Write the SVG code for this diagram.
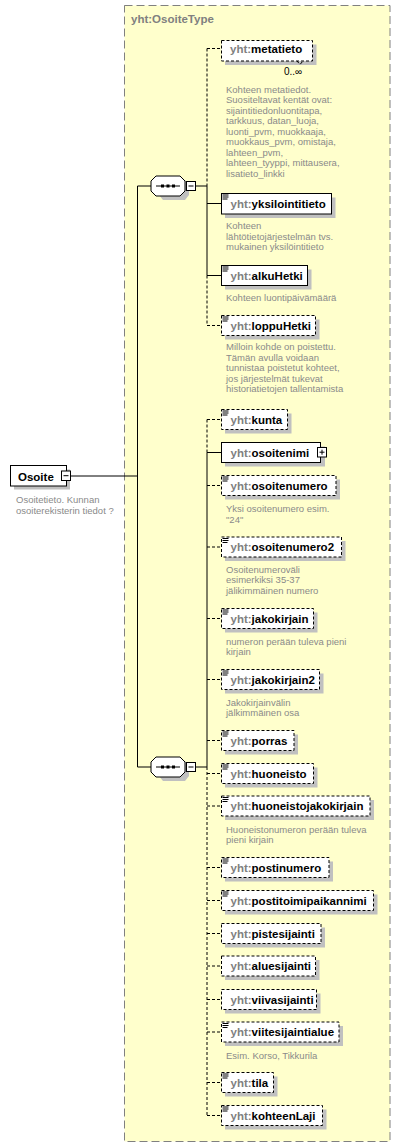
<svg xmlns="http://www.w3.org/2000/svg" xmlns:xlink="http://www.w3.org/1999/xlink" width="401" height="1147" viewBox="0 0 401 1147">
<style>
.bg{fill:#ffffff}
.ctype{fill:#ffffcc;stroke:#808080;stroke-width:1;stroke-dasharray:8,4}
.title{font-family:"Liberation Sans",Arial,sans-serif;font-weight:bold;font-size:11.5px;fill:#808080}
.box{fill:#ffffff;stroke:#000;stroke-width:1}
.opt{stroke-dasharray:3,2}
.sh{fill:#c0c0c0}
.lbl{font-family:"Liberation Sans",Arial,sans-serif;font-weight:bold;font-size:11.5px;fill:#000}
.pre{fill:#808080}
.desc{font-family:"Liberation Sans",Arial,sans-serif;font-size:9.5px;fill:#8a8a8a}
.ln{stroke:#000;stroke-width:1;fill:none}
.dln{stroke:#000;stroke-width:1;fill:none;stroke-dasharray:3,2}
.pm{fill:#fff;stroke:#000;stroke-width:1}
.occ{font-family:"Liberation Sans",Arial,sans-serif;font-size:10px;fill:#000}
</style>
<defs>
<g id="doc"><path d="M0,0.5h6M0,2.5h6M0,4.5h5" stroke="#000" stroke-width="1"/></g>
<g id="seq">
<polygon points="5,5 9,0 31,0 35,5 35,15 31,20 9,20 5,15" transform="translate(4,4)" class="sh"/>
<polygon points="1,5 6,0 30,0 35,5 35,15 30,20 6,20 1,15" class="box"/>
<path d="M6,10h24" stroke="#000" stroke-width="1"/>
<rect x="11" y="8.5" width="3" height="3" fill="#000"/>
<rect x="16.5" y="8.5" width="3" height="3" fill="#000"/>
<rect x="22" y="8.5" width="3" height="3" fill="#000"/>
<rect x="36.5" y="5.5" width="9" height="9" class="pm"/>
<path d="M38.5,10h5" stroke="#000" stroke-width="1"/>
</g>
</defs>
<rect x="0" y="0" width="401" height="1147" class="bg"/>
<g id="OsoiteType">
<rect x="124.5" y="5.5" width="265.5" height="1136" class="ctype"/>
<text x="131" y="23" class="title">yht:OsoiteType</text>
</g>
<g id="connectors">
<path class="ln" d="M70.5,476H137.5M137.5,186V767M137.5,186H151M137.5,767H151"/>
<path class="ln" d="M196,186H207"/>
<path class="dln" d="M207,48.5V186M207,275.5V325.5"/>
<path class="ln" d="M207,186V275.5"/>
<path class="dln" d="M207,48.5H221"/>
<path class="ln" d="M207,203.5H221M207,275.5H221"/>
<path class="dln" d="M207,325.5H221"/>
<path class="ln" d="M196,767H207"/>
<path class="dln" d="M207,419.5V452.5M207,767V1115.5"/>
<path class="ln" d="M207,452.5V767M207,452.5H221"/>
<path class="dln" d="M207,419.5H221M207,485.5H221M207,547H221M207,618.5H221M207,679.5H221M207,740.5H221M207,773.5H221M207,806H221M207,867.5H221M207,900.5H221M207,933.5H221M207,966H221M207,999.5H221M207,1032H221M207,1082.5H221M207,1115.5H221"/>
</g>
<g id="Osoite">
<rect x="14" y="469.5" width="56" height="20" class="sh"/>
<rect x="10.5" y="465.5" width="56" height="20.5" class="box"/>
<text x="18" y="480.5" class="lbl">Osoite</text>
<rect x="61.5" y="471" width="9" height="9.5" class="pm"/>
<path d="M63.5,475.7h5" stroke="#000"/>
<text class="desc"><tspan x="16" y="502.5">Osoitetieto. Kunnan</tspan><tspan x="16" y="514">osoiterekisterin tiedot ?</tspan></text>
</g>
<g id="sequence1"><use xlink:href="#seq" x="150" y="176"/></g>
<g id="sequence2"><use xlink:href="#seq" x="150" y="757"/></g>
<g id="metatieto">
<rect x="225" y="44.5" width="91.5" height="20.5" class="sh"/>
<rect x="221.5" y="40.5" width="91" height="20.5" class="box opt"/>
<path d="M297,61l3,3.5l3,-3.5" class="dln"/>
<text x="230" y="52.5" class="lbl"><tspan class="pre">yht:</tspan>metatieto</text>
<text x="284" y="75" class="occ">0..∞</text>
<text class="desc"><tspan x="226" y="92.8">Kohteen metatiedot.</tspan><tspan x="226" y="103.3">Suositeltavat kentät ovat:</tspan><tspan x="226" y="113.8">sijaintitiedonluontitapa,</tspan><tspan x="226" y="124.3">tarkkuus, datan_luoja,</tspan><tspan x="226" y="134.8">luonti_pvm, muokkaaja,</tspan><tspan x="226" y="145.3">muokkaus_pvm, omistaja,</tspan><tspan x="226" y="155.8">lahteen_pvm,</tspan><tspan x="226" y="166.3">lahteen_tyyppi, mittausera,</tspan><tspan x="226" y="176.8">lisatieto_linkki</tspan></text>
</g>
<g id="yksilointitieto">
<rect x="225" y="197.5" width="110.5" height="20.5" class="sh"/>
<rect x="221.5" y="193.5" width="110" height="20.5" class="box"/>
<use xlink:href="#doc" x="222.5" y="194.5"/>
<text x="230.5" y="207.5" class="lbl"><tspan class="pre">yht:</tspan>yksilointitieto</text>
<text class="desc"><tspan x="226" y="229">Kohteen</tspan><tspan x="226" y="239.7">lähtötietojärjestelmän  tvs.</tspan><tspan x="226" y="250.4">mukainen yksilöintitieto</tspan></text>
</g>
<g id="alkuHetki">
<rect x="225" y="269.5" width="86.5" height="20" class="sh"/>
<rect x="221.5" y="265.5" width="86" height="20" class="box"/>
<use xlink:href="#doc" x="222.5" y="266.5"/>
<text x="230.5" y="279.5" class="lbl"><tspan class="pre">yht:</tspan>alkuHetki</text>
<text class="desc"><tspan x="226" y="300.8">Kohteen luontipäivämäärä</tspan></text>
</g>
<g id="loppuHetki">
<rect x="225" y="319.5" width="94.5" height="20" class="sh"/>
<rect x="221.5" y="315.5" width="94" height="20" class="box opt"/>
<use xlink:href="#doc" x="222.5" y="316.5"/>
<text x="230.5" y="329.5" class="lbl"><tspan class="pre">yht:</tspan>loppuHetki</text>
<text class="desc"><tspan x="226" y="350.2">Milloin kohde on poistettu.</tspan><tspan x="226" y="360.7">Tämän avulla voidaan</tspan><tspan x="226" y="371.2">tunnistaa poistetut kohteet,</tspan><tspan x="226" y="381.7">jos järjestelmät tukevat</tspan><tspan x="226" y="392.2">historiatietojen tallentamista</tspan></text>
</g>
<g id="kunta">
<rect x="225" y="413.5" width="66.5" height="20" class="sh"/>
<rect x="221.5" y="409.5" width="66" height="20" class="box opt"/>
<use xlink:href="#doc" x="222.5" y="410.5"/>
<text x="230.5" y="423.5" class="lbl"><tspan class="pre">yht:</tspan>kunta</text>
</g>
<g id="osoitenimi">
<rect x="225" y="446.5" width="100" height="20" class="sh"/>
<rect x="221.5" y="442.5" width="99" height="20" class="box"/>
<text x="230.5" y="456.5" class="lbl"><tspan class="pre">yht:</tspan>osoitenimi</text>
<rect x="317.5" y="447.5" width="9" height="9.5" class="pm"/>
<path d="M319.5,452.2h5M322,449.7v5" stroke="#000"/>
</g>
<g id="osoitenumero">
<rect x="225" y="479.5" width="115" height="20" class="sh"/>
<rect x="221.5" y="475.5" width="114.5" height="20" class="box opt"/>
<use xlink:href="#doc" x="222.5" y="476.5"/>
<text x="230.5" y="489.5" class="lbl"><tspan class="pre">yht:</tspan>osoitenumero</text>
<text class="desc"><tspan x="226" y="512">Yksi osoitenumero esim.</tspan><tspan x="226" y="522.5">"24"</tspan></text>
</g>
<g id="osoitenumero2">
<rect x="225" y="541" width="120.5" height="20" class="sh"/>
<rect x="221.5" y="537" width="120" height="20" class="box opt"/>
<use xlink:href="#doc" x="222.5" y="538"/>
<text x="230.5" y="551" class="lbl"><tspan class="pre">yht:</tspan>osoitenumero2</text>
<text class="desc"><tspan x="226" y="572.5">Osoitenumeroväli</tspan><tspan x="226" y="583.1">esimerkiksi 35-37</tspan><tspan x="226" y="593.7">jälikimmäinen numero</tspan></text>
</g>
<g id="jakokirjain">
<rect x="225" y="612.5" width="92.5" height="20" class="sh"/>
<rect x="221.5" y="608.5" width="92" height="20" class="box opt"/>
<use xlink:href="#doc" x="222.5" y="609.5"/>
<text x="230.5" y="622.5" class="lbl"><tspan class="pre">yht:</tspan>jakokirjain</text>
<text class="desc"><tspan x="226" y="644.5">numeron perään tuleva pieni</tspan><tspan x="226" y="655.1">kirjain</tspan></text>
</g>
<g id="jakokirjain2">
<rect x="225" y="673.5" width="98.5" height="20" class="sh"/>
<rect x="221.5" y="669.5" width="98" height="20" class="box opt"/>
<use xlink:href="#doc" x="222.5" y="670.5"/>
<text x="230.5" y="683.5" class="lbl"><tspan class="pre">yht:</tspan>jakokirjain2</text>
<text class="desc"><tspan x="226" y="705.8">Jakokirjainvälin</tspan><tspan x="226" y="716.3">jälkimmäinen osa</tspan></text>
</g>
<g id="porras">
<rect x="225" y="734.5" width="73" height="20" class="sh"/>
<rect x="221.5" y="730.5" width="72.5" height="20" class="box opt"/>
<use xlink:href="#doc" x="222.5" y="731.5"/>
<text x="230.5" y="744.5" class="lbl"><tspan class="pre">yht:</tspan>porras</text>
</g>
<g id="huoneisto">
<rect x="225" y="767.5" width="92.5" height="20" class="sh"/>
<rect x="221.5" y="763.5" width="92" height="20" class="box opt"/>
<use xlink:href="#doc" x="222.5" y="764.5"/>
<text x="230.5" y="777.5" class="lbl"><tspan class="pre">yht:</tspan>huoneisto</text>
</g>
<g id="huoneistojakokirjain">
<rect x="225" y="800" width="149" height="20" class="sh"/>
<rect x="221.5" y="796" width="148.5" height="20" class="box opt"/>
<use xlink:href="#doc" x="222.5" y="797"/>
<text x="230.5" y="810" class="lbl"><tspan class="pre">yht:</tspan>huoneistojakokirjain</text>
<text class="desc"><tspan x="226" y="832.5">Huoneistonumeron perään tuleva</tspan><tspan x="226" y="843.3">pieni kirjain</tspan></text>
</g>
<g id="postinumero">
<rect x="225" y="861.5" width="108" height="20" class="sh"/>
<rect x="221.5" y="857.5" width="107.5" height="20" class="box opt"/>
<use xlink:href="#doc" x="222.5" y="858.5"/>
<text x="230.5" y="871.5" class="lbl"><tspan class="pre">yht:</tspan>postinumero</text>
</g>
<g id="postitoimipaikannimi">
<rect x="225" y="894.5" width="152.5" height="20" class="sh"/>
<rect x="221.5" y="890.5" width="152" height="20" class="box opt"/>
<use xlink:href="#doc" x="222.5" y="891.5"/>
<text x="230.5" y="904.5" class="lbl"><tspan class="pre">yht:</tspan>postitoimipaikannimi</text>
</g>
<g id="pistesijainti">
<rect x="225" y="927.5" width="100" height="20" class="sh"/>
<rect x="221.5" y="923.5" width="99.5" height="20" class="box opt"/>
<text x="230.5" y="937.5" class="lbl"><tspan class="pre">yht:</tspan>pistesijainti</text>
</g>
<g id="aluesijainti">
<rect x="225" y="960" width="94.5" height="20" class="sh"/>
<rect x="221.5" y="956" width="94" height="20" class="box opt"/>
<text x="230.5" y="970" class="lbl"><tspan class="pre">yht:</tspan>aluesijainti</text>
</g>
<g id="viivasijainti">
<rect x="225" y="993.5" width="95.5" height="20" class="sh"/>
<rect x="221.5" y="989.5" width="95" height="20" class="box opt"/>
<text x="230.5" y="1003.5" class="lbl"><tspan class="pre">yht:</tspan>viivasijainti</text>
</g>
<g id="viitesijaintialue">
<rect x="225" y="1026" width="118" height="20" class="sh"/>
<rect x="221.5" y="1022" width="117.5" height="20" class="box opt"/>
<use xlink:href="#doc" x="222.5" y="1023"/>
<text x="230.5" y="1036" class="lbl"><tspan class="pre">yht:</tspan>viitesijaintialue</text>
<text class="desc"><tspan x="226" y="1058.5">Esim. Korso, Tikkurila</tspan></text>
</g>
<g id="tila">
<rect x="225" y="1076.5" width="52.5" height="20" class="sh"/>
<rect x="221.5" y="1072.5" width="52" height="20" class="box opt"/>
<use xlink:href="#doc" x="222.5" y="1073.5"/>
<text x="230.5" y="1086.5" class="lbl"><tspan class="pre">yht:</tspan>tila</text>
</g>
<g id="kohteenLaji">
<rect x="225" y="1109.5" width="101.5" height="20" class="sh"/>
<rect x="221.5" y="1105.5" width="101" height="20" class="box opt"/>
<use xlink:href="#doc" x="222.5" y="1106.5"/>
<text x="230.5" y="1119.5" class="lbl"><tspan class="pre">yht:</tspan>kohteenLaji</text>
</g>
</svg>
